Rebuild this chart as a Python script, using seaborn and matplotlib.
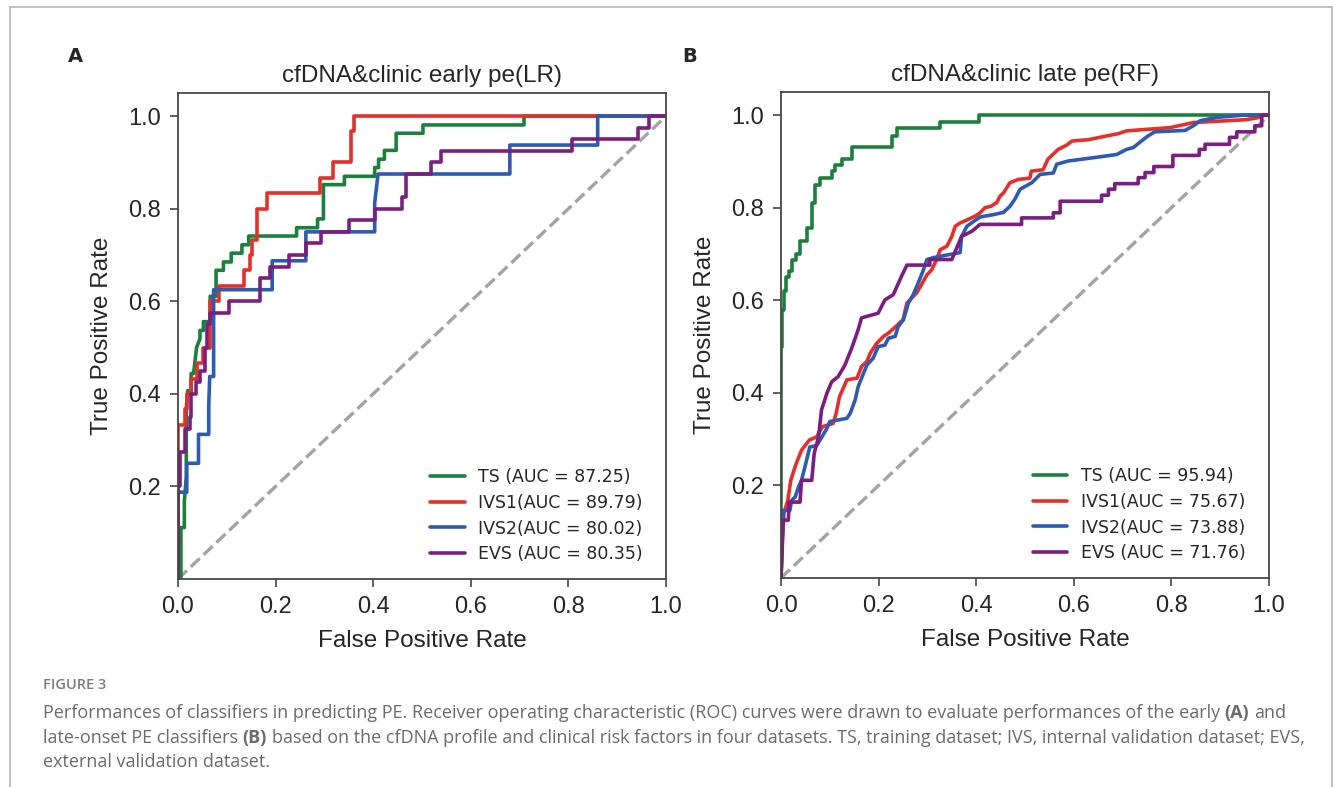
import matplotlib
matplotlib.use("Agg")
import matplotlib.pyplot as plt
import pandas as pd
import seaborn as sns
from matplotlib.lines import Line2D

# ---- data: ROC curve corner points (fpr, tpr) ----
A_TS = [(0, 0), (0.006, 0), (0.006, 0.111), (0.013, 0.111), (0.013, 0.167), (0.017, 0.222),
        (0.017, 0.37), (0.02, 0.407), (0.027, 0.407), (0.027, 0.444), (0.032, 0.444),
        (0.038, 0.5), (0.045, 0.519), (0.045, 0.537), (0.052, 0.537), (0.052, 0.556),
        (0.066, 0.556), (0.066, 0.611), (0.078, 0.611), (0.078, 0.667), (0.093, 0.667),
        (0.093, 0.685), (0.109, 0.685), (0.109, 0.704), (0.131, 0.704), (0.131, 0.722),
        (0.145, 0.722), (0.145, 0.741), (0.243, 0.741), (0.243, 0.759), (0.286, 0.759),
        (0.286, 0.778), (0.298, 0.778), (0.298, 0.852), (0.341, 0.852), (0.341, 0.87),
        (0.403, 0.87), (0.403, 0.889), (0.411, 0.889), (0.411, 0.907), (0.423, 0.907),
        (0.423, 0.926), (0.447, 0.926), (0.447, 0.963), (0.502, 0.963), (0.502, 0.981),
        (0.709, 0.981), (0.709, 1.0), (1.0, 1.0)]
A_IVS1 = [(0, 0), (0, 0.333), (0.014, 0.333), (0.014, 0.367), (0.018, 0.367), (0.018, 0.4),
          (0.026, 0.4), (0.026, 0.433), (0.038, 0.433), (0.038, 0.467), (0.052, 0.467),
          (0.052, 0.5), (0.066, 0.5), (0.066, 0.6), (0.083, 0.6), (0.083, 0.633),
          (0.135, 0.633), (0.135, 0.667), (0.148, 0.667), (0.148, 0.7), (0.152, 0.7),
          (0.152, 0.733), (0.161, 0.733), (0.161, 0.8), (0.183, 0.8), (0.183, 0.833),
          (0.29, 0.833), (0.29, 0.867), (0.318, 0.867), (0.318, 0.9), (0.355, 0.9),
          (0.355, 0.967), (0.36, 0.967), (0.36, 1.0), (1.0, 1.0)]
A_IVS2 = [(0, 0), (0, 0.1875), (0.018, 0.1875), (0.018, 0.25), (0.042, 0.25), (0.042, 0.3125),
          (0.063, 0.3125), (0.063, 0.375), (0.065, 0.4375), (0.073, 0.4375), (0.073, 0.625),
          (0.193, 0.625), (0.193, 0.6875), (0.262, 0.6875), (0.262, 0.75), (0.403, 0.75),
          (0.403, 0.8125), (0.41, 0.875), (0.68, 0.875), (0.68, 0.9375), (0.86, 0.9375),
          (0.86, 1.0), (1.0, 1.0)]
A_EVS = [(0, 0), (0, 0.2), (0.004, 0.2), (0.004, 0.275), (0.014, 0.275), (0.014, 0.325),
         (0.025, 0.325), (0.025, 0.35), (0.027, 0.35), (0.027, 0.4), (0.037, 0.4),
         (0.037, 0.425), (0.045, 0.425), (0.045, 0.45), (0.055, 0.45), (0.055, 0.5),
         (0.06, 0.5), (0.06, 0.55), (0.066, 0.55), (0.066, 0.575), (0.104, 0.575),
         (0.104, 0.6), (0.168, 0.6), (0.168, 0.65), (0.188, 0.65), (0.188, 0.675),
         (0.227, 0.675), (0.227, 0.7), (0.262, 0.7), (0.262, 0.725), (0.294, 0.725),
         (0.294, 0.75), (0.351, 0.75), (0.351, 0.775), (0.403, 0.775), (0.403, 0.8),
         (0.459, 0.8), (0.459, 0.825), (0.468, 0.825), (0.468, 0.875), (0.518, 0.875),
         (0.518, 0.9), (0.539, 0.9), (0.539, 0.925), (0.807, 0.925), (0.807, 0.95),
         (0.942, 0.95), (0.942, 0.975), (0.966, 0.975), (0.966, 1.0), (1.0, 1.0)]

B_TS = [(0, 0), (0, 0.5), (0.002, 0.5), (0.002, 0.58), (0.006, 0.58), (0.006, 0.62),
        (0.01, 0.62), (0.01, 0.65), (0.016, 0.65), (0.016, 0.663), (0.022, 0.663),
        (0.022, 0.688), (0.031, 0.688), (0.031, 0.7), (0.039, 0.7), (0.039, 0.728),
        (0.053, 0.728), (0.053, 0.757), (0.063, 0.757), (0.063, 0.811), (0.07, 0.811),
        (0.07, 0.85), (0.08, 0.85), (0.08, 0.865), (0.104, 0.865), (0.104, 0.879),
        (0.111, 0.879), (0.111, 0.892), (0.124, 0.892), (0.124, 0.906), (0.145, 0.906),
        (0.145, 0.932), (0.227, 0.932), (0.227, 0.955), (0.237, 0.955), (0.237, 0.973),
        (0.326, 0.973), (0.326, 0.986), (0.406, 0.986), (0.406, 1.0), (1.0, 1.0)]
B_IVS1 = [(0, 0), (0.004, 0.1), (0.006, 0.14), (0.014, 0.168), (0.02, 0.211), (0.03, 0.244),
          (0.042, 0.276), (0.058, 0.298), (0.073, 0.305), (0.085, 0.327), (0.107, 0.334),
          (0.113, 0.356), (0.12, 0.392), (0.135, 0.428), (0.156, 0.432), (0.165, 0.457),
          (0.176, 0.468), (0.183, 0.486), (0.196, 0.507), (0.21, 0.522), (0.22, 0.529),
          (0.235, 0.543), (0.25, 0.558), (0.258, 0.594), (0.278, 0.616), (0.288, 0.634),
          (0.299, 0.655), (0.309, 0.666), (0.319, 0.688), (0.326, 0.709), (0.34, 0.717),
          (0.35, 0.738), (0.357, 0.76), (0.367, 0.767), (0.384, 0.775), (0.398, 0.782),
          (0.408, 0.789), (0.418, 0.8), (0.43, 0.803), (0.442, 0.811), (0.449, 0.825),
          (0.456, 0.832), (0.469, 0.854), (0.486, 0.861), (0.51, 0.864), (0.513, 0.879),
          (0.537, 0.882), (0.547, 0.905), (0.557, 0.915), (0.568, 0.926), (0.585, 0.935),
          (0.596, 0.944), (0.63, 0.947), (0.667, 0.955), (0.691, 0.96), (0.708, 0.966),
          (0.797, 0.973), (0.845, 0.984), (0.951, 0.99), (0.98, 0.995), (0.99, 1.0), (1.0, 1.0)]
B_IVS2 = [(0, 0), (0.003, 0.1), (0.005, 0.146), (0.018, 0.146), (0.022, 0.168), (0.029, 0.175),
          (0.036, 0.197), (0.042, 0.211), (0.049, 0.24), (0.059, 0.283), (0.073, 0.286),
          (0.08, 0.298), (0.094, 0.323), (0.1, 0.338), (0.135, 0.345), (0.142, 0.356),
          (0.152, 0.385), (0.158, 0.413), (0.169, 0.442), (0.176, 0.46), (0.189, 0.475),
          (0.199, 0.5), (0.213, 0.503), (0.22, 0.518), (0.234, 0.522), (0.24, 0.543),
          (0.251, 0.558), (0.261, 0.594), (0.271, 0.612), (0.281, 0.637), (0.292, 0.666),
          (0.299, 0.688), (0.312, 0.692), (0.346, 0.699), (0.367, 0.703), (0.37, 0.738),
          (0.381, 0.76), (0.401, 0.775), (0.408, 0.78), (0.435, 0.785), (0.456, 0.79),
          (0.469, 0.803), (0.479, 0.818), (0.49, 0.84), (0.514, 0.854), (0.531, 0.872),
          (0.558, 0.875), (0.565, 0.894), (0.589, 0.901), (0.64, 0.908), (0.688, 0.915),
          (0.708, 0.926), (0.722, 0.93), (0.742, 0.947), (0.752, 0.955), (0.766, 0.964),
          (0.828, 0.967), (0.845, 0.977), (0.859, 0.988), (0.893, 0.995), (0.947, 1.0), (1.0, 1.0)]
B_EVS = [(0, 0), (0.004, 0.125), (0.015, 0.125), (0.017, 0.164), (0.039, 0.164), (0.042, 0.211),
         (0.063, 0.211), (0.068, 0.269), (0.077, 0.305), (0.083, 0.363), (0.094, 0.399),
         (0.104, 0.424), (0.117, 0.435), (0.131, 0.46), (0.145, 0.497), (0.158, 0.536),
         (0.165, 0.562), (0.199, 0.572), (0.213, 0.601), (0.23, 0.612), (0.247, 0.652),
         (0.258, 0.676), (0.305, 0.676), (0.305, 0.688), (0.35, 0.688), (0.37, 0.738),
         (0.391, 0.749), (0.408, 0.764), (0.493, 0.764), (0.493, 0.778), (0.558, 0.778),
         (0.558, 0.789), (0.572, 0.789), (0.572, 0.814), (0.657, 0.814), (0.657, 0.827),
         (0.671, 0.827), (0.671, 0.84), (0.684, 0.84), (0.684, 0.852), (0.732, 0.852),
         (0.732, 0.865), (0.746, 0.865), (0.746, 0.876), (0.764, 0.876), (0.764, 0.889),
         (0.803, 0.889), (0.803, 0.913), (0.857, 0.913), (0.857, 0.926), (0.869, 0.926),
         (0.869, 0.937), (0.919, 0.937), (0.919, 0.952), (0.934, 0.952), (0.934, 0.964),
         (0.971, 0.964), (0.971, 0.977), (0.985, 0.977), (0.985, 1.0), (1.0, 1.0)]

DATASETS = ["TS", "IVS1", "IVS2", "EVS"]
A_AUC = [87.25, 89.79, 80.02, 80.35]
B_AUC = [95.94, 75.67, 73.88, 71.76]
PANEL_TITLES = ["cfDNA&clinic early pe(LR)", "cfDNA&clinic late pe(RF)"]
PANEL_LETTERS = ["A", "B"]
CHANCE = [0.0, 1.0]
TICKS_X = [0.0, 0.2, 0.4, 0.6, 0.8, 1.0]
TICKS_Y = [0.2, 0.4, 0.6, 0.8, 1.0]

COLORS = {"TS": "#1c803d", "IVS1": "#e3302a", "IVS2": "#2d5bb0", "EVS": "#7a1f7f"}
AXIS_FONT = "Liberation Sans"
CAPTION_FONT = "Open Sans"


def roc_frame(curves, aucs):
    rows = []
    for name, pts, auc in zip(DATASETS, curves, aucs):
        gap = "" if name.startswith("IVS") else " "
        label = f"{name}{gap}(AUC = {auc:.2f})"
        for i, (fx, ty) in enumerate(pts):
            rows.append({"dataset": name, "label": label, "step": i, "fpr": fx, "tpr": ty})
    return pd.DataFrame(rows)


def draw_panel(ax, df, title):
    for name in DATASETS:
        sub = df[df["dataset"] == name].sort_values("step")
        sns.lineplot(data=sub, x="fpr", y="tpr", sort=False, estimator=None,
                     color=COLORS[name], linewidth=2.6, label=sub["label"].iloc[0], ax=ax)
    ax.plot(CHANCE, CHANCE, linestyle="--", color="#a3a3a3", linewidth=2.4, zorder=1)
    ax.set_xlim(0, 1.0)
    ax.set_ylim(0, 1.05)
    ax.set_xticks(TICKS_X)
    ax.set_yticks(TICKS_Y)
    ax.tick_params(labelsize=17, length=6, width=1.2, color="#4a4643", pad=6)
    for s in ax.spines.values():
        s.set_color("#4a4643")
        s.set_linewidth(1.3)
        s.set_visible(True)
    ax.set_xlabel("False Positive Rate", fontsize=17.5, labelpad=9)
    ax.set_ylabel("True Positive Rate", fontsize=17.5, labelpad=11)
    ax.set_title(title, fontsize=17.5, pad=8)
    ax.legend(loc="lower right", frameon=False, prop={"family": "DejaVu Sans", "size": 12.5},
              bbox_to_anchor=(0.985, 0.0), handlelength=2.0, labelspacing=0.45)


def rich_line(fig, x, y, parts, **kw):
    renderer = fig.canvas.get_renderer()
    probe_a = fig.text(0, 0, "x x", **kw)
    probe_b = fig.text(0, 0, "xx", **kw)
    space = (probe_a.get_window_extent(renderer).width
             - probe_b.get_window_extent(renderer).width) / fig.bbox.width
    probe_a.remove()
    probe_b.remove()
    for i, (txt, weight) in enumerate(parts):
        if i > 0:
            x += space
        t = fig.text(x, y, txt, fontweight=weight, va="center", ha="left", **kw)
        x += t.get_window_extent(renderer).width / fig.bbox.width


sns.set_style("ticks")
plt.rcParams["font.family"] = [AXIS_FONT, "DejaVu Sans"]

fig = plt.figure(figsize=(13.33, 7.87), dpi=100)
W, H = 1333, 787
ax_a = fig.add_axes([178 / W, (H - 579) / H, 488 / W, 486 / H])
ax_b = fig.add_axes([781 / W, (H - 578) / H, 488 / W, 486 / H])

draw_panel(ax_a, roc_frame([A_TS, A_IVS1, A_IVS2, A_EVS], A_AUC), PANEL_TITLES[0])
draw_panel(ax_b, roc_frame([B_TS, B_IVS1, B_IVS2, B_EVS], B_AUC), PANEL_TITLES[1])

fig.text(75 / W, 1 - 57 / H, PANEL_LETTERS[0], fontsize=14, fontweight="bold",
         family="DejaVu Sans", ha="center", va="center")
fig.text(690 / W, 1 - 57 / H, PANEL_LETTERS[1], fontsize=14, fontweight="bold",
         family="DejaVu Sans", ha="center", va="center")

# frame lines around the figure block
frame_kw = dict(transform=fig.transFigure, color="#b5b5b5", linewidth=1.2)
fig.add_artist(Line2D([9.5 / W, 1331.5 / W], [1 - 7 / H, 1 - 7 / H], **frame_kw))
fig.add_artist(Line2D([9.5 / W, 9.5 / W], [0, 1 - 7 / H], **frame_kw))
fig.add_artist(Line2D([1331.5 / W, 1331.5 / W], [0, 1 - 7 / H], **frame_kw))

cap_kw = dict(family=CAPTION_FONT, fontsize=13, color="#6b6b6b")
fig.text(43 / W, 1 - 685 / H, "FIGURE 3", family=CAPTION_FONT, fontsize=10.5,
         fontweight="semibold", color="#7d7d7d", va="center", ha="left")
rich_line(fig, 43 / W, 1 - 713 / H, [
    ("Performances of classifiers in predicting PE. Receiver operating characteristic (ROC) "
     "curves were drawn to evaluate performances of the early", "normal"),
    ("(A)", "bold"), ("and", "normal")], **cap_kw)
rich_line(fig, 43 / W, 1 - 738 / H, [
    ("late-onset PE classifiers", "normal"), ("(B)", "bold"),
    ("based on the cfDNA profile and clinical risk factors in four datasets. TS, training "
     "dataset; IVS, internal validation dataset; EVS,", "normal")], **cap_kw)
rich_line(fig, 43 / W, 1 - 762 / H, [("external validation dataset.", "normal")], **cap_kw)

fig.savefig("out.png", dpi=100)
